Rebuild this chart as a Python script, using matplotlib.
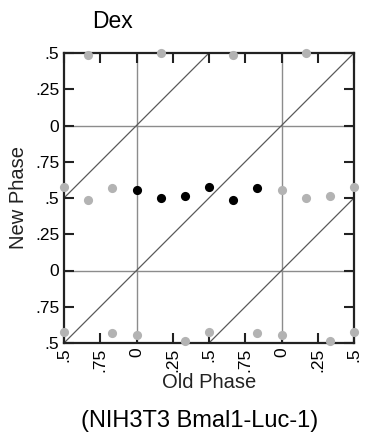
import matplotlib
matplotlib.use("Agg")
import matplotlib.pyplot as plt
import numpy as np

plt.rcParams['font.family'] = ['Liberation Sans', 'DejaVu Sans']

# measured phase response (one cycle), double plotted below
old_phase = [0.0, 0.167, 0.333, 0.5, 0.667, 0.833]
new_phase = [0.553, 0.498, 0.514, 0.576, 0.484, 0.567]

tick_pos = np.arange(-0.5, 1.51, 0.25)
tick_labels = ['.5', '.75', '0', '.25', '.5', '.75', '0', '.25', '.5']

title = "Dex"
cell_line = "(NIH3T3 Bmal1-Luc-1)"

W, H = 365, 442
fig = plt.figure(figsize=(W / 100, H / 100), dpi=100)
ax = fig.add_axes([64 / W, 1 - 343 / H, 290 / W, 290 / H])

lo, hi = -0.5, 1.5
ax.set_xlim(lo, hi)
ax.set_ylim(lo, hi)

# grid lines at cycle boundaries
for v in (0, 1):
    ax.axvline(v, color='#8c8c8c', lw=1.0, zorder=1)
    ax.axhline(v, color='#8c8c8c', lw=1.0, zorder=1)

# diagonals (no phase shift)
for off in (-1, 0, 1):
    xs = np.array([lo, hi])
    ax.plot(xs, xs + off, color='#5a5a5a', lw=0.9, zorder=1)

# replicated gray copies
x = np.array(old_phase)
y = np.array(new_phase)
gx, gy = [], []
for dx in (-1, 0, 1):
    for dy in (-1, 0, 1):
        if dx == 0 and dy == 0:
            continue
        xx = x + dx
        yy = y + dy
        keep = (xx >= lo - 1e-6) & (xx <= hi + 1e-6) & (yy >= lo) & (yy <= hi)
        gx.extend(xx[keep])
        gy.extend(yy[keep])
ax.plot(gx, gy, 'o', color='#b3b3b3', ms=6.6, mec='none', clip_on=False, zorder=3)
ax.plot(x, y, 'o', color='black', ms=6.6, mec='none', clip_on=False, zorder=4)

ax.set_xticks(tick_pos)
ax.set_xticklabels(tick_labels, rotation=90)
ax.set_yticks(tick_pos)
ax.set_yticklabels(tick_labels)
ax.tick_params(direction='in', length=7, width=1.5, color='#222222',
               top=True, right=True, labelsize=12.5, pad=3.5)
for s in ax.spines.values():
    s.set_linewidth(1.6)
    s.set_color('#222222')

fig.text(113 / W, 1 - 22 / H, title, ha='center', va='center', fontsize=16.5)
fig.text(19 / W, 1 - 198 / H, "New Phase", rotation=90, ha='center',
         va='center', fontsize=14.5, color='#222222')
fig.text(209 / W, 1 - 383 / H, "Old Phase", ha='center', va='center',
         fontsize=14.5, color='#222222')
fig.text(200 / W, 1 - 421 / H, cell_line, ha='center', va='center', fontsize=17)

fig.savefig("out.png", dpi=100)
